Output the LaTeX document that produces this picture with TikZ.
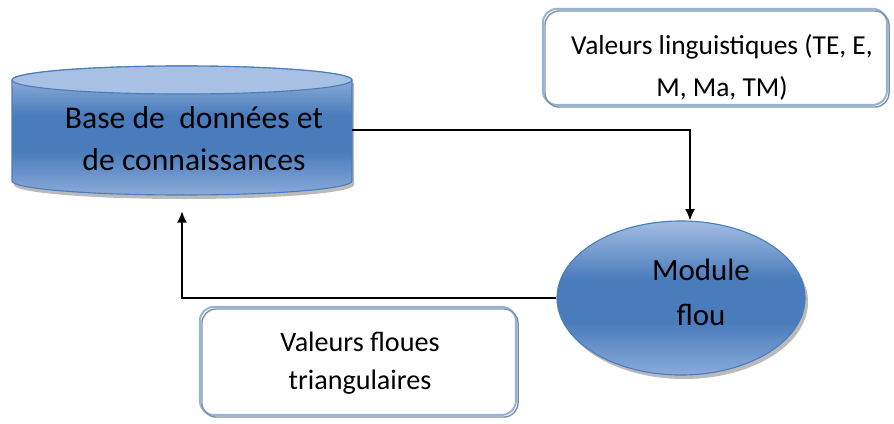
\documentclass[tikz,border=0pt]{standalone}
\usepackage{fontspec}
\setmainfont{Carlito}
\usepackage{tikz}
\usetikzlibrary{arrows.meta, positioning, shapes.geometric}

\definecolor{cylTop}{HTML}{A3BCE2}
\definecolor{cylMid}{HTML}{4A7CBC}
\definecolor{cylBot}{HTML}{8AABDB}
\definecolor{cylCap}{HTML}{A8C0E4}
\definecolor{cylLine}{HTML}{4A7EBB}
\definecolor{boxBlue}{HTML}{95B3D7}
\definecolor{boxGray}{HTML}{7F8FA6}

\pgfdeclareverticalshading{blueband}{100bp}{color(0bp)=(cylBot); color(25bp)=(cylBot);
    color(42bp)=(cylMid); color(56bp)=(cylMid); color(75bp)=(cylTop); color(100bp)=(cylTop)}

\begin{document}
\begin{tikzpicture}[%
        x=0.025cm, y=0.025cm,
        every node/.style={align=center, font=\fontsize{20}{30}\selectfont},
        valbox/.style={rectangle, rounded corners=10pt, draw=boxGray, line width=1pt,
            preaction={draw=boxBlue, line width=1.4pt, transform canvas={shift={(-1.5pt,1.5pt)}}}},
        module/.style={ellipse, draw=cylLine, line width=0.8pt, inner sep=0pt,
            shading=blueband, font=\fontsize{22}{32}\selectfont},
        link/.style={-{Latex[length=8pt, width=7pt]}, line width=1pt}
    ]
    \useasboundingbox (0,0) rectangle (894,423);

    % --- Base de donnees (cylinder) ---
    \fill[black!45, opacity=0.6] (14,340) -- (14,238) arc[start angle=180, end angle=360, x radius=170, y radius=14] -- (354,340) -- cycle;
    \shadedraw[shading=blueband, draw=cylLine, line width=0.8pt]
        (12,343) -- (12,242) arc[start angle=180, end angle=360, x radius=170, y radius=14]
        -- (352,343) arc[start angle=0, end angle=180, x radius=170, y radius=14] -- cycle;
    \filldraw[fill=cylCap, draw=cylLine, line width=0.8pt] (182,343) ellipse[x radius=170, y radius=14];
    \node[rectangle, minimum width=8.5cm, minimum height=3.25cm] (db) at (182,293) {};
    \node[font=\fontsize{22.5}{30}\selectfont] (dbtxt) at (194,284) {Base de\ \ données et\\de connaissances};

    % --- Module flou ---
    \fill[black!45, opacity=0.6] (684,121) ellipse[x radius=124, y radius=77];
    \node[module, minimum width=6.2cm, minimum height=3.85cm] (mod) at (681,125) {};
    \node[font=\fontsize{22}{32}\selectfont] (modtxt) at (701,131) {Module\\flou};

    % --- Value boxes ---
    \node[valbox, minimum width=8.6cm, minimum height=2.4cm] (ling) at (717,364) {};
    \node[font=\fontsize{19.5}{30}\selectfont] (lingtxt) at (722,356) {Valeurs linguistiques (TE, E,\\M, Ma, TM)};
    \node[valbox, font=\fontsize{20}{27}\selectfont, minimum width=7.9cm, minimum height=2.7cm] (floues) at (360,60) {Valeurs floues\\triangulaires};

    % --- connectors ---
    \draw[link] (db.east) -| ([xshift=0.225cm]mod.north);
    \draw[link, shorten >=0.4cm] (mod.west) -| (db.south);
\end{tikzpicture}
\end{document}
